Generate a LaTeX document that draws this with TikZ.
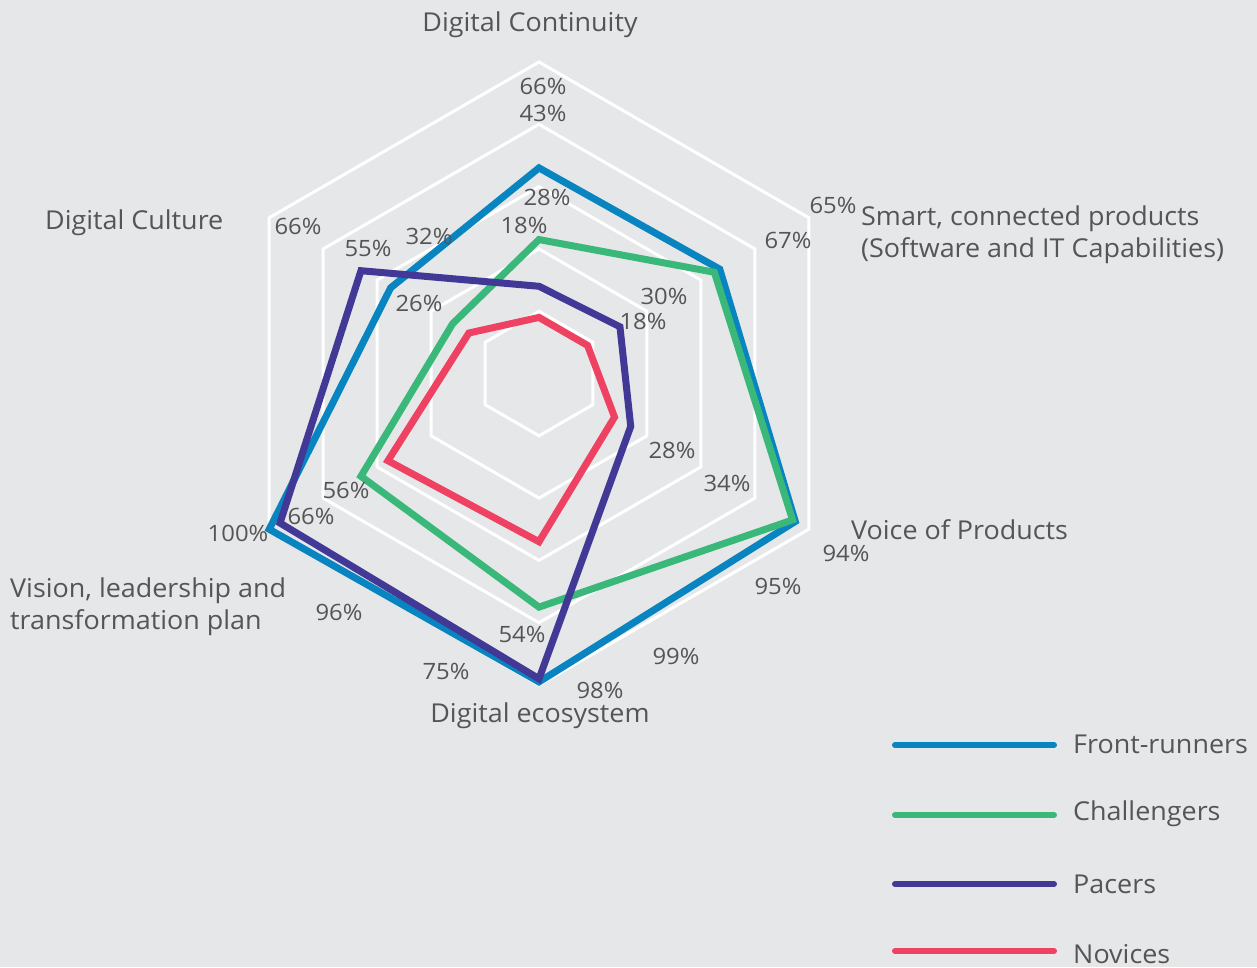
\documentclass[tikz,border=0pt]{standalone}
\usepackage{fontspec}
\setmainfont[FakeStretch=1.06]{Open Sans}
\newfontfamily\catfont[FakeStretch=1.035]{Open Sans}
\definecolor{bgc}{RGB}{230,231,233}
\definecolor{txt}{RGB}{85,85,85}
\definecolor{cfr}{RGB}{8,132,192}
\definecolor{cch}{RGB}{58,184,122}
\definecolor{cpa}{RGB}{66,57,150}
\definecolor{cno}{RGB}{239,65,98}
\tikzset{
  grid/.style={draw=white, line width=3pt, line join=miter},
  series/.style={line width=7pt, line join=miter, miter limit=10},
  cat/.style={text=txt, font=\catfont\fontsize{26}{32}\selectfont, inner sep=0pt},
  val/.style={text=txt, font=\fontsize{22.5}{26}\selectfont, inner sep=0pt},
  leg/.style={line width=6pt, line cap=round},
}
\begin{document}
\begin{tikzpicture}[x=1pt,y=-1pt]
\useasboundingbox (0,0) rectangle (1257,967);
\fill[bgc] (0,0) rectangle (1257,967);
\coordinate (c) at (539,373.5);
% grid hexagons
\foreach \r in {20,40,60,80,100}{
  \draw[grid] ([shift={(90:{\r*3.115pt})}]c) -- ([shift={(30:{\r*3.115pt})}]c) -- ([shift={(-30:{\r*3.115pt})}]c) -- ([shift={(-90:{\r*3.115pt})}]c) -- ([shift={(-150:{\r*3.115pt})}]c) -- ([shift={(150:{\r*3.115pt})}]c) -- cycle;
}
% data points
\foreach \s/\a/\b/\cc/\d/\e/\f in {fr/66/67/95/99/100/55, ch/43/65/94/75/66/32, pa/28/30/34/98/96/66, no/18/18/28/54/56/26}{
  \coordinate (\s1) at ([shift={(90:{\a*3.115pt})}]c);
  \coordinate (\s2) at ([shift={(30:{\b*3.115pt})}]c);
  \coordinate (\s3) at ([shift={(-30:{\cc*3.115pt})}]c);
  \coordinate (\s4) at ([shift={(-90:{\d*3.115pt})}]c);
  \coordinate (\s5) at ([shift={(-150:{\e*3.115pt})}]c);
  \coordinate (\s6) at ([shift={(150:{\f*3.115pt})}]c);
}
\draw[series, cfr] (fr1) -- (fr2) -- (fr3) -- (fr4) -- (fr5) -- (fr6) -- cycle;
\draw[series, cch] (ch1) -- (ch2) -- (ch3) -- (ch4) -- (ch5) -- (ch6) -- cycle;
\draw[series, cpa] (pa1) -- (pa2) -- (pa3) -- (pa4) -- (pa5) -- (pa6) -- cycle;
\draw[series, cno] (no1) -- (no2) -- (no3) -- (no4) -- (no5) -- (no6) -- cycle;
% category labels
\node[cat] (l1) at (530,25) {Digital Continuity};
\node[cat, anchor=west, align=left] (l2) at (861,235) {Smart, connected products\\(Software and IT Capabilities)};
\node[cat, anchor=west] (l3) at (851,530) {Voice of Products};
\node[cat] (l4) at (540,716) {Digital ecosystem};
\node[cat, anchor=west, align=left] (l5) at (10,607) {Vision, leadership and\\transformation plan};
\node[cat, anchor=west] (l6) at (45,223) {Digital Culture};
% value labels
\node[val] (v11) at (543,86) {66\%};
\node[val] (v12) at (543,113) {43\%};
\node[val] (v13) at (547,197) {28\%};
\node[val] (v14) at (524,225) {18\%};
\node[val] (v21) at (833,205) {65\%};
\node[val] (v22) at (788,240) {67\%};
\node[val] (v23) at (664,296) {30\%};
\node[val] (v24) at (643,321) {18\%};
\node[val] (v31) at (846,553) {94\%};
\node[val] (v32) at (778,586) {95\%};
\node[val] (v33) at (727,483) {34\%};
\node[val] (v34) at (672,450) {28\%};
\node[val] (v41) at (676,656) {99\%};
\node[val] (v42) at (600,690) {98\%};
\node[val] (v43) at (522,634) {54\%};
\node[val] (v44) at (446,671) {75\%};
\node[val] (v51) at (238,533) {100\%};
\node[val] (v52) at (311,516) {66\%};
\node[val] (v53) at (346,490) {56\%};
\node[val] (v54) at (339,612) {96\%};
\node[val] (v61) at (298,226) {66\%};
\node[val] (v62) at (368,248) {55\%};
\node[val] (v63) at (429,236) {32\%};
\node[val] (v64) at (419,303) {26\%};
% legend
\coordinate (a1) at (895,745); \coordinate (b1) at (1054,745);
\coordinate (a2) at (895,815); \coordinate (b2) at (1054,815);
\coordinate (a3) at (895,884); \coordinate (b3) at (1054,884);
\coordinate (a4) at (895,951); \coordinate (b4) at (1054,951);
\draw[leg, cfr] (a1) -- (b1);
\draw[leg, cch] (a2) -- (b2);
\draw[leg, cpa] (a3) -- (b3);
\draw[leg, cno] (a4) -- (b4);
\node[cat, anchor=west] (t1) at (1073,744) {Front-runners};
\node[cat, anchor=west] (t2) at (1073,814) {Challengers};
\node[cat, anchor=west] (t3) at (1073,884) {Pacers};
\node[cat, anchor=west] (t4) at (1073,954) {Novices};
\end{tikzpicture}
\end{document}
